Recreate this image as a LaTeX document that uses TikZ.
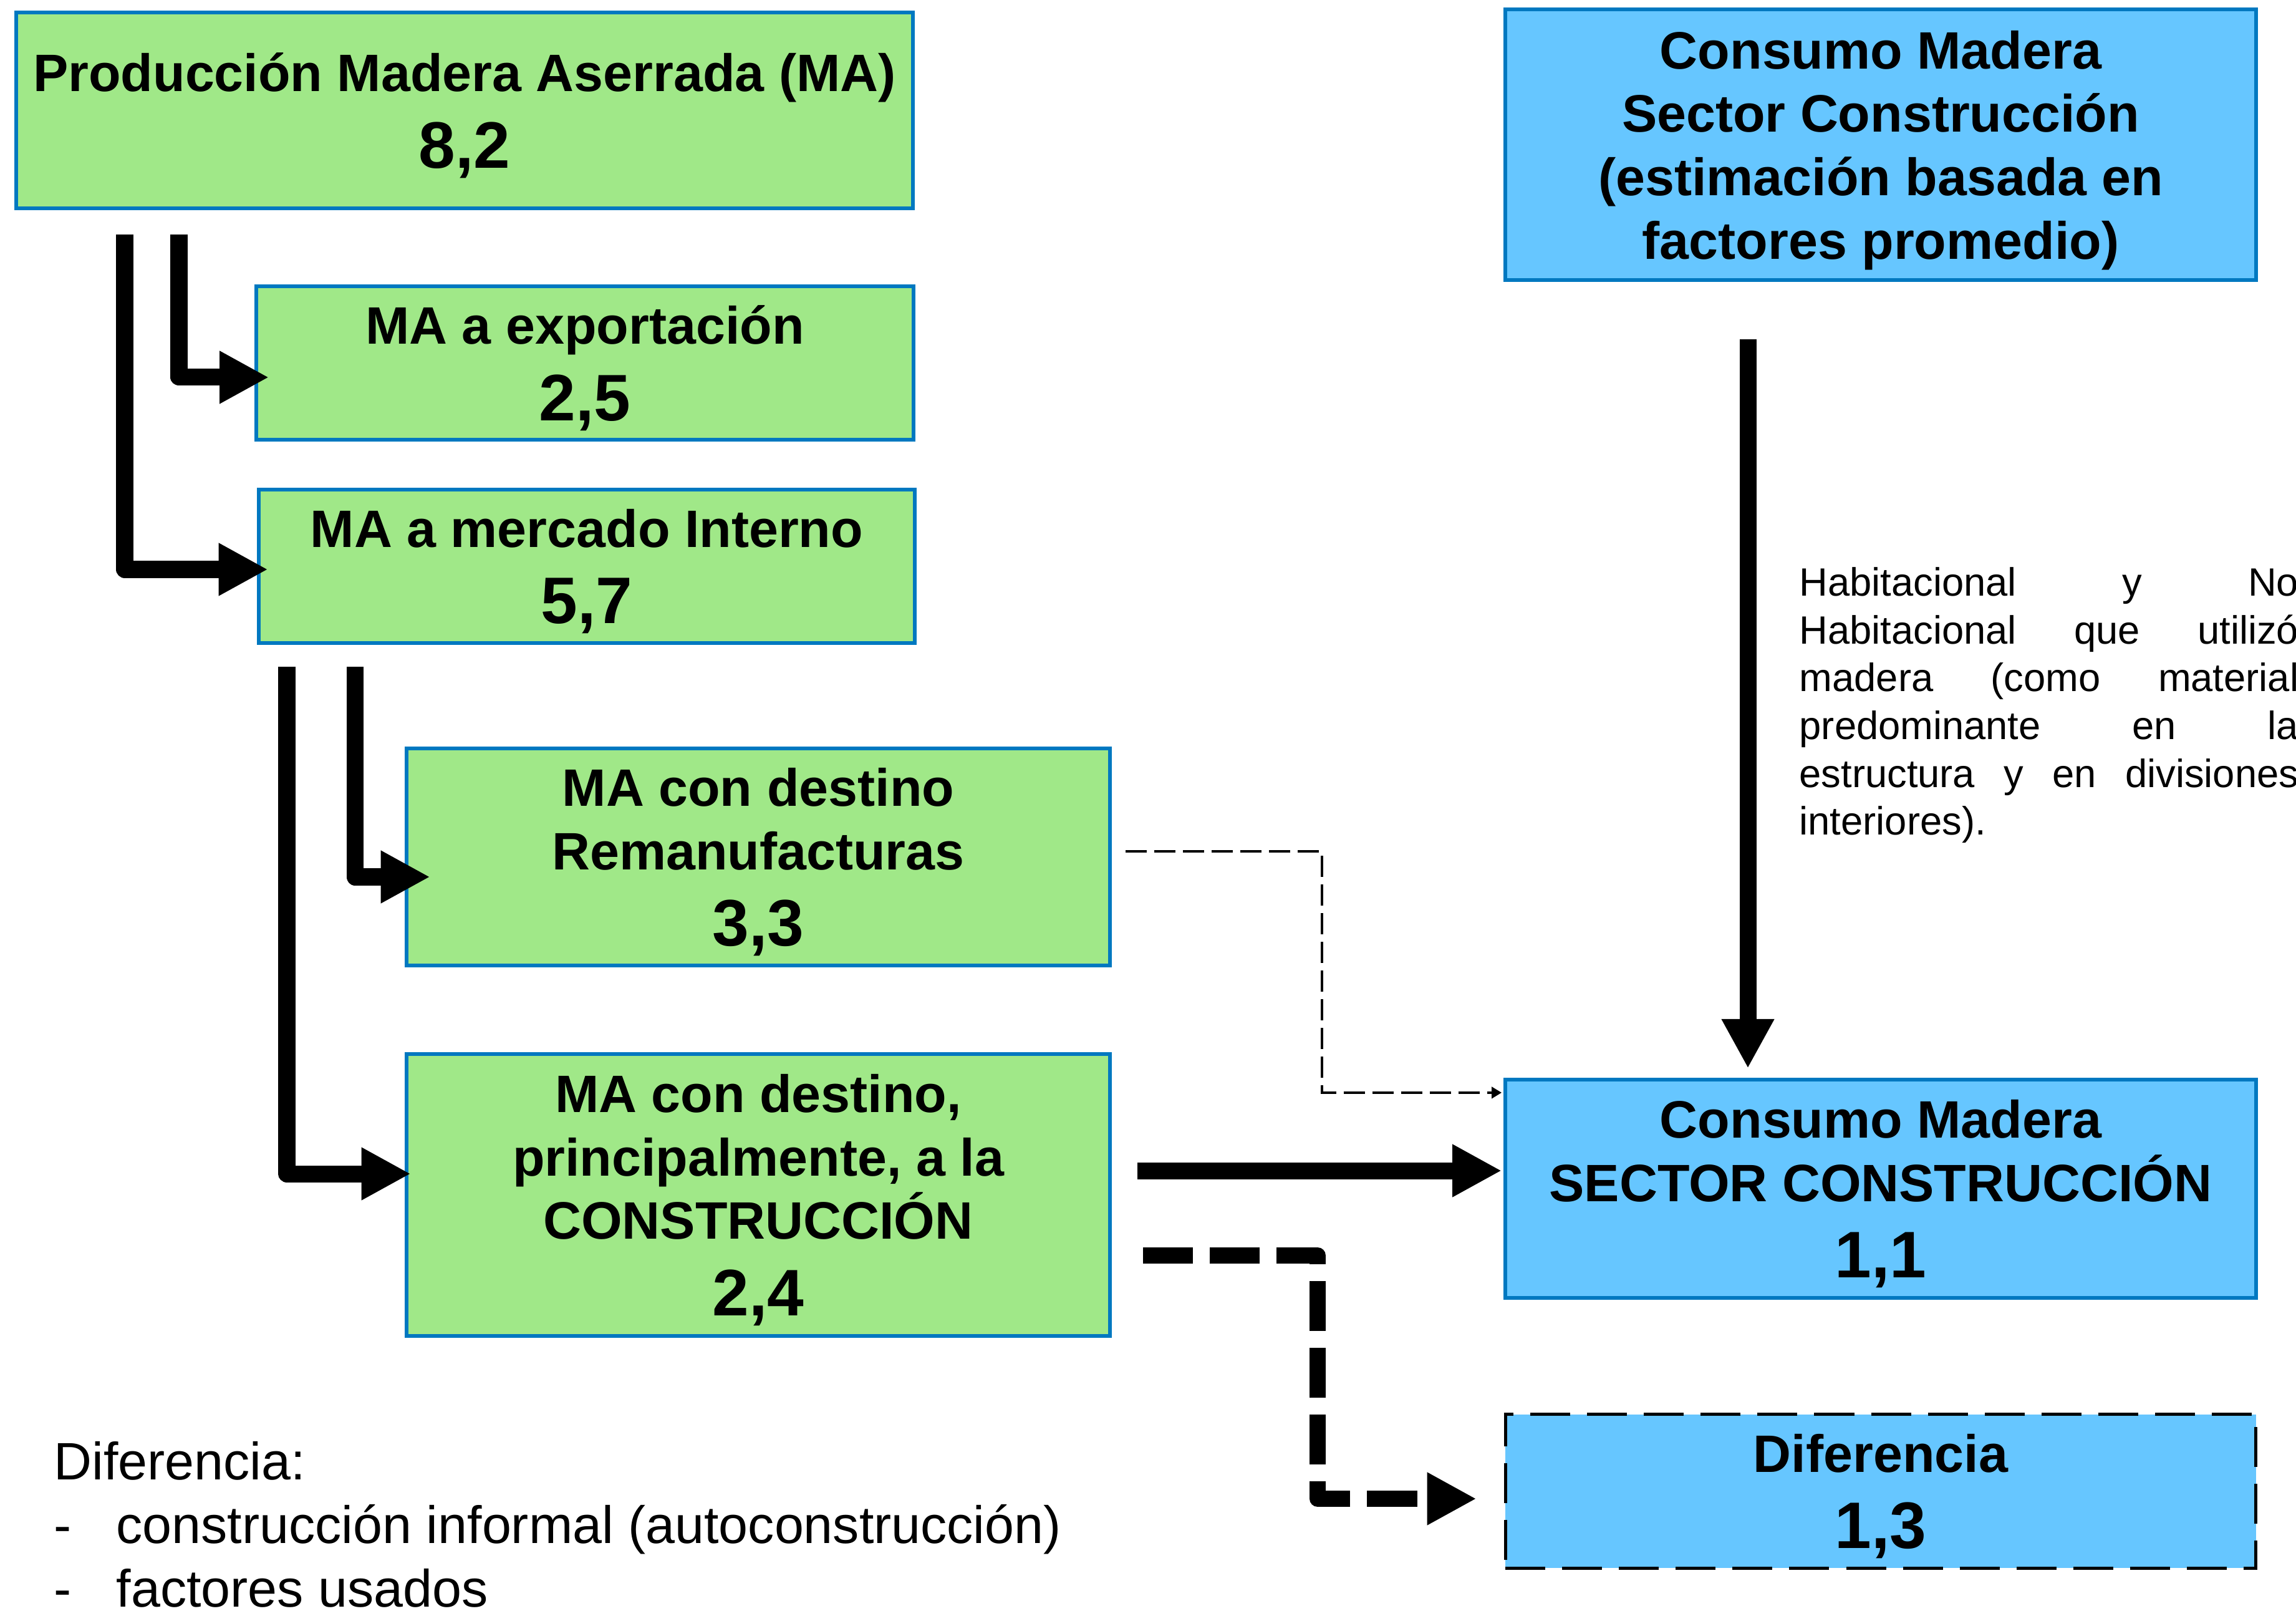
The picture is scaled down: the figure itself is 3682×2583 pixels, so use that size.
\documentclass[tikz,border=0pt]{standalone}
\usepackage{fontspec}
\setmainfont{Liberation Sans}
\usetikzlibrary{arrows.meta}
\usetikzlibrary{calc}

\definecolor{verde}{HTML}{A0E888}
\definecolor{celeste}{HTML}{66C6FF}
\definecolor{borde}{HTML}{0078C0}

\newcommand{\cifra}[1]{{\fontsize{30}{28.9}\selectfont #1}}

\begin{document}
\begin{tikzpicture}[x=0.01cm, y=-0.01cm,
  caja/.style={draw=borde, line width=0.06cm, align=center, inner sep=0pt,
    text depth=0pt, font=\bfseries\fontsize{24}{28.9}\selectfont},
  cajaverde/.style={caja, fill=verde},
  cajaazul/.style={caja, fill=celeste},
  gruesa/.style={line width=0.27cm, line join=round,
    -{Triangle[length=0.79cm, width=0.79cm]}},
  discontinua/.style={gruesa, line width=0.26cm, dash pattern=on 0.8cm off 0.27cm},
  fina/.style={line width=0.04cm, dash pattern=on 0.34cm off 0.12cm,
    -{Triangle[length=0.16cm, width=0.18cm]}}]
  \useasboundingbox (0,0) rectangle (3682,2583);

  % cajas de madera aserrada
  \node[cajaverde, minimum width=14.38cm, minimum height=3.13cm] (prod) at (745,177)
    {Producción Madera Aserrada (MA)\\[6pt]\cifra{8,2}};
  \node[cajaverde, minimum width=10.53cm, minimum height=2.46cm] (exp) at (938,582)
    {MA a exportación\\[6pt]\cifra{2,5}};
  \node[cajaverde, minimum width=10.52cm, minimum height=2.46cm] (int) at (941,908)
    {MA a mercado Interno\\[6pt]\cifra{5,7}};
  \node[cajaverde, minimum width=11.28cm, minimum height=3.48cm] (rem) at (1216,1374)
    {MA con destino\\Remanufacturas\\[6pt]\cifra{3,3}};
  \node[cajaverde, minimum width=11.28cm, minimum height=4.51cm] (con) at (1216,1916)
    {MA con destino,\\principalmente, a la\\CONSTRUCCIÓN\\[6pt]\cifra{2,4}};

  % cajas de consumo
  \node[cajaazul, minimum width=12.03cm, minimum height=4.34cm] (cms) at (3016,232)
    {Consumo Madera\\Sector Construcción\\(estimación basada en\\factores promedio)};
  \node[cajaazul, minimum width=12.03cm, minimum height=3.50cm] (cmc) at (3016,1906)
    {Consumo Madera\\SECTOR CONSTRUCCIÓN\\[6pt]\cifra{1,1}};
  \node[cajaazul, draw=black, line width=0.05cm, dash pattern=on 0.64cm off 0.27cm,
    minimum width=12.03cm, minimum height=2.46cm] (dif) at (3016,2391)
    {Diferencia\\[6pt]\cifra{1,3}};

  % textos
  \node[anchor=north west, inner sep=0pt, align=left,
    font=\fontsize{18}{21.8}\selectfont] (nota) at (2885,909)
    {\makebox[8cm][s]{Habitacional y No}\\
     \makebox[8cm][s]{Habitacional que utilizó}\\
     \makebox[8cm][s]{madera (como material}\\
     \makebox[8cm][s]{predominante en la}\\
     \makebox[8cm][s]{estructura y en divisiones}\\
     interiores).};
  \node[anchor=north west, inner sep=0pt, align=left,
    font=\fontsize{24}{28.9}\selectfont] (difnota) at (86,2311)
    {Diferencia:\\
     \makebox[1cm][l]{-}construcción informal (autoconstrucción)\\
     \makebox[1cm][l]{-}factores usados};

  % flechas
  \coordinate (s1) at (287,376);
  \coordinate (s2) at (200,376);
  \coordinate (s3) at (569,1069);
  \coordinate (s4) at (460,1069);
  \coordinate (s5) at (1824,1877);
  \coordinate (s6) at (1833,2013);
  \coordinate (s7) at (1805,1365);
  \coordinate (s8) at (2803,544);

  \draw[gruesa] (s1) |- ([shift={(23,23)}]exp.west);
  \draw[gruesa] (s2) |- ([shift={(18,5)}]int.west);
  \draw[gruesa] (s3) |- ([shift={(41,32)}]rem.west);
  \draw[gruesa] (s4) |- ([shift={(10,-34)}]con.west);
  \draw[gruesa] (s5) -- ([shift={(-3,-29)}]cmc.west);
  \draw[gruesa] (s8) -- ($(s8 |- cmc.north)+(0,-15)$);
  \draw[discontinua] (s6) -- ++(280,0) |- ([shift={(-44,12)}]dif.west);
  \draw[fina] (s7) -- ++(315,0) |- ([shift={(-3,24)}]cmc.north west);
\end{tikzpicture}
\end{document}
